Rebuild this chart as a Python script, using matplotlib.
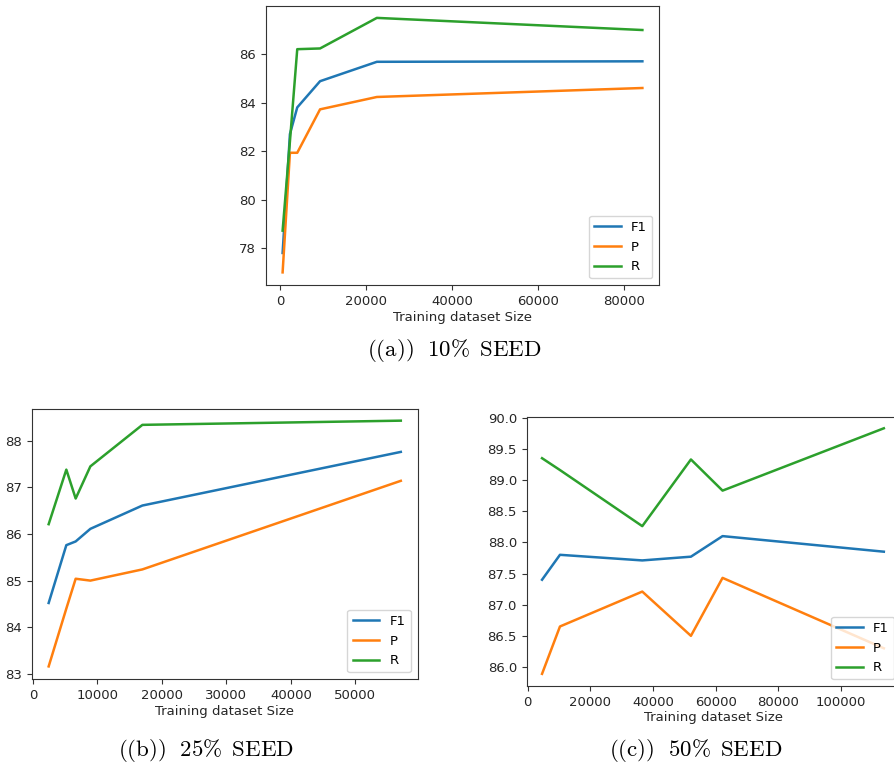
import matplotlib
matplotlib.use("Agg")
import matplotlib.pyplot as plt

plt.rcParams['font.family'] = ['DejaVu Sans']
plt.rcParams['mathtext.fontset'] = 'cm'

# (a) 10% SEED
x_a = [600, 2300, 4000, 9300, 22500, 84200]
f1_a = [77.8, 82.7, 83.8, 84.88, 85.68, 85.70]
p_a = [77.0, 81.93, 81.93, 83.72, 84.23, 84.60]
r_a = [78.72, 82.4, 86.2, 86.23, 87.49, 86.99]

# (b) 25% SEED
x_b = [2430, 5170, 6620, 8900, 16970, 57060]
f1_b = [84.52, 85.76, 85.84, 86.11, 86.61, 87.76]
p_b = [83.16, 84.4, 85.04, 85.00, 85.24, 87.14]
r_b = [86.21, 87.38, 86.76, 87.45, 88.34, 88.43]

# (c) 50% SEED
x_c = [4600, 10320, 36600, 52130, 62230, 113720]
f1_c = [87.40, 87.80, 87.71, 87.77, 88.10, 87.85]
p_c = [85.89, 86.65, 87.21, 86.50, 87.43, 86.30]
r_c = [89.35, 89.16, 88.26, 89.33, 88.83, 89.83]

labels = ["F1", "P", "R"]
captions = [r"$\mathrm{((a))\ \ 10\%\ \,SEED}$",
            r"$\mathrm{((b))\ \ 25\%\ \,SEED}$",
            r"$\mathrm{((c))\ \ 50\%\ \,SEED}$"]

W, H = 894, 768
fig = plt.figure(figsize=(W / 100, H / 100), dpi=100)


def rect(l, r, t, b):
    return [l / W, 1 - b / H, (r - l) / W, (b - t) / H]


panels = [
    (rect(265.7, 659, 6, 285), x_a, [f1_a, p_a, r_a], (-3330, 88060), (76.48, 87.98)),
    (rect(32, 417.5, 409, 679), x_b, [f1_b, p_b, r_b], (-155, 59650), (82.89, 88.68)),
    (rect(526.7, 901, 416.7, 686), x_c, [f1_c, p_c, r_c], (-300, 119200), (85.695, 90.016)),
]

for pos, x, ys, xl, yl in panels:
    ax = fig.add_axes(pos)
    for y, lab in zip(ys, labels):
        ax.plot(x, y, label=lab, linewidth=1.8)
    ax.set_xlim(*xl)
    ax.set_ylim(*yl)
    ax.tick_params(labelsize=9.5, colors='#333333', labelcolor='#262626')
    for s in ax.spines.values():
        s.set_color('#333333')
    ax.set_xlabel("Training dataset Size", fontsize=9.5, color='#262626', labelpad=2)
    ax.legend(loc='lower right', fontsize=9.5)

fig.text(454 / W, 1 - 351 / H, captions[0], ha='center', va='center', fontsize=16.5)
fig.text(206 / W, 1 - 751 / H, captions[1], ha='center', va='center', fontsize=16.5)
fig.text(696 / W, 1 - 751 / H, captions[2], ha='center', va='center', fontsize=16.5)

fig.savefig("out.png", dpi=100)
